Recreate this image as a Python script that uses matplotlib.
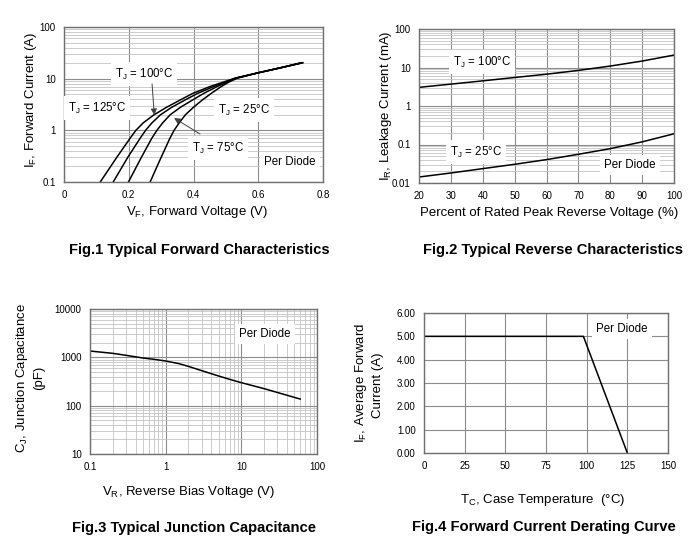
import numpy as np
import matplotlib
matplotlib.use("Agg")
import matplotlib.pyplot as plt
from matplotlib.ticker import FixedLocator, LogLocator, NullFormatter, FuncFormatter

plt.rcParams['font.family'] = ['Liberation Sans', 'DejaVu Sans']
plt.rcParams['mathtext.default'] = 'regular'

# Fig.1 forward characteristics (V, A)
if_pts = [0.1, 0.3, 0.7, 1.0, 1.4, 2.0, 2.8, 3.9, 5.2, 7.0, 8.5, 10.2, 13.0, 16.3, 20.3]
vf_125 = [0.112, 0.163, 0.204, 0.222, 0.245, 0.278, 0.317, 0.360, 0.398, 0.450, 0.490, 0.528, 0.600, 0.670, 0.738]
vf_100 = [0.152, 0.197, 0.235, 0.252, 0.272, 0.298, 0.333, 0.375, 0.413, 0.461, 0.497, 0.529, 0.600, 0.670, 0.736]
vf_75 = [0.199, 0.239, 0.271, 0.287, 0.305, 0.328, 0.360, 0.398, 0.432, 0.472, 0.502, 0.530, 0.600, 0.670, 0.734]
vf_25 = [0.266, 0.300, 0.327, 0.340, 0.356, 0.375, 0.400, 0.428, 0.455, 0.485, 0.508, 0.535, 0.600, 0.670, 0.732]

# Fig.2 reverse characteristics (% of VRRM, mA)
vr_pct = [20, 30, 40, 50, 60, 70, 80, 90, 100]
ir_100 = [3.05, 3.7, 4.5, 5.5, 6.7, 8.4, 10.9, 14.7, 21.0]
ir_25 = [0.0143, 0.0182, 0.0236, 0.0306, 0.0405, 0.0557, 0.078, 0.117, 0.19]

# Fig.3 junction capacitance (V, pF)
vr_cap = [0.1, 0.2, 0.3, 0.5, 0.7, 1, 1.5, 2, 3, 5, 7, 10, 20, 60]
cj = [1350, 1210, 1100, 968, 910, 840, 740, 650, 530, 411, 351, 299, 225, 137]

# Fig.4 derating (degC, A)
tc = [0, 98, 125]
if_avg = [5.0, 5.0, 0.0]

W, H = 700, 554
fig = plt.figure(figsize=(7, 5.54), dpi=100)


def box(l, t, r, b):
    return [l / W, 1 - b / H, (r - l) / W, (b - t) / H]


def ftext(x, y, s, **kw):
    fig.text(x / W, 1 - y / H, s, ha='center', va='center', **kw)


minor_c = '#c4c4c4'
major_c = '#8c8c8c'
spine_c = '#707070'
lab = dict(fontsize=9.5)
ttl = dict(fontsize=10.6, fontweight='bold')
note_box = dict(fc='white', ec='none', pad=3)


def style(ax):
    for s in ax.spines.values():
        s.set_color(spine_c)
        s.set_linewidth(1.0)
    ax.tick_params(which='both', length=0, labelsize=7, pad=6)
    ax.set_axisbelow(True)


def fmt(v, pos):
    return '%g' % v


# ---------- Fig 1 ----------
ax1 = fig.add_axes(box(64, 27, 323, 182))
style(ax1)
ax1.set_yscale('log')
ax1.set_xlim(0, 0.8)
ax1.set_ylim(0.1, 100)
ax1.xaxis.set_major_locator(FixedLocator([0, 0.2, 0.4, 0.6, 0.8]))
ax1.xaxis.set_major_formatter(FuncFormatter(fmt))
ax1.yaxis.set_major_locator(FixedLocator([0.1, 1, 10, 100]))
ax1.yaxis.set_major_formatter(FuncFormatter(fmt))
ax1.yaxis.set_minor_locator(LogLocator(subs=np.arange(2, 10)))
ax1.yaxis.set_minor_formatter(NullFormatter())
ax1.grid(True, which='major', color=major_c, lw=0.8)
ax1.grid(True, which='minor', axis='y', color=minor_c, lw=0.6)
for v in [vf_125, vf_100, vf_75, vf_25]:
    ax1.plot(v, if_pts, color='black', lw=1.1)
t1 = dict(fontsize=8.3, ha='center', va='center', bbox=note_box)
ax1.text(0.247, 12.3, r'T$_J$ = 100°C', **t1)
ax1.text(0.102, 2.7, r'T$_J$ = 125°C', **t1)
ax1.text(0.556, 2.47, r'T$_J$ = 25°C', **t1)
ax1.text(0.476, 0.455, r'T$_J$ = 75°C', **t1)
ax1.text(0.698, 0.244, 'Per Diode', **t1)
arr = dict(arrowstyle='-|>', color='#404040', lw=0.7, mutation_scale=9, shrinkA=0, shrinkB=0)
ax1.annotate('', xy=(0.279, 1.98), xytext=(0.272, 7.9), arrowprops=arr)
ax1.annotate('', xy=(0.340, 1.73), xytext=(0.420, 0.85), arrowprops=arr)
ftext(197, 212, r'V$_F$, Forward Voltage (V)', **lab)
ftext(31, 100, r'I$_F$, Forward Current (A)', rotation=90, **lab)
ftext(199, 250, 'Fig.1 Typical Forward Characteristics', **ttl)

# ---------- Fig 2 ----------
ax2 = fig.add_axes(box(419, 29, 674, 183))
style(ax2)
ax2.set_yscale('log')
ax2.set_xlim(20, 100)
ax2.set_ylim(0.01, 100)
ax2.xaxis.set_major_locator(FixedLocator(vr_pct))
ax2.yaxis.set_major_locator(FixedLocator([0.01, 0.1, 1, 10, 100]))
ax2.yaxis.set_major_formatter(FuncFormatter(fmt))
ax2.yaxis.set_minor_locator(LogLocator(subs=np.arange(2, 10)))
ax2.yaxis.set_minor_formatter(NullFormatter())
ax2.grid(True, which='major', color=major_c, lw=0.8)
ax2.grid(True, which='minor', axis='y', color=minor_c, lw=0.6)
ax2.plot(vr_pct, ir_100, color='black', lw=1.1)
ax2.plot(vr_pct, ir_25, color='black', lw=1.1)
ax2.text(39.8, 13.9, r'T$_J$ = 100°C', **t1)
ax2.text(37.9, 0.0638, r'T$_J$ = 25°C', **t1)
ax2.text(86.2, 0.0294, 'Per Diode', **t1)
ftext(549, 213, 'Percent of Rated Peak Reverse Voltage (%)', **lab)
ftext(386, 106, r'I$_R$, Leakage Current (mA)', rotation=90, **lab)
ftext(553, 250, 'Fig.2 Typical Reverse Characteristics', **ttl)

# ---------- Fig 3 ----------
ax3 = fig.add_axes(box(90, 309, 317, 454))
style(ax3)
ax3.set_xscale('log')
ax3.set_yscale('log')
ax3.set_xlim(0.1, 100)
ax3.set_ylim(10, 10000)
ax3.xaxis.set_major_locator(FixedLocator([0.1, 1, 10, 100]))
ax3.xaxis.set_major_formatter(FuncFormatter(fmt))
ax3.yaxis.set_major_locator(FixedLocator([10, 100, 1000, 10000]))
ax3.yaxis.set_major_formatter(FuncFormatter(fmt))
for a in (ax3.xaxis, ax3.yaxis):
    a.set_minor_locator(LogLocator(subs=np.arange(2, 10)))
    a.set_minor_formatter(NullFormatter())
ax3.grid(True, which='major', color=major_c, lw=0.8)
ax3.grid(True, which='minor', color=minor_c, lw=0.6)
ax3.plot(vr_cap, cj, color='black', lw=1.1)
ax3.text(20.5, 3040, 'Per Diode', **t1)
ftext(189, 492, r'V$_R$, Reverse Bias Voltage (V)', **lab)
ftext(22, 378, r'C$_J$, Junction Capacitance', rotation=90, **lab)
ftext(39, 378, '(pF)', rotation=90, **lab)
ftext(194, 528, 'Fig.3 Typical Junction Capacitance', **ttl)

# ---------- Fig 4 ----------
ax4 = fig.add_axes(box(424, 313, 668, 453))
style(ax4)
ax4.set_xlim(0, 150)
ax4.set_ylim(0, 6)
ax4.xaxis.set_major_locator(FixedLocator([0, 25, 50, 75, 100, 125, 150]))
ax4.yaxis.set_major_locator(FixedLocator([0, 1, 2, 3, 4, 5, 6]))
ax4.yaxis.set_major_formatter(FuncFormatter(lambda v, p: '%.2f' % v))
ax4.grid(True, which='major', color=major_c, lw=0.8)
ax4.plot(tc, if_avg, color='black', lw=1.1)
ax4.text(121.7, 5.31, 'Per Diode', **t1)
ftext(543, 500, r'T$_C$, Case Temperature  (°C)', **lab)
ftext(361, 383, r'I$_F$, Average Forward', rotation=90, **lab)
ftext(378, 385, 'Current (A)', rotation=90, **lab)
ftext(544, 527, 'Fig.4 Forward Current Derating Curve', **ttl)

fig.savefig('out.png', dpi=100)
